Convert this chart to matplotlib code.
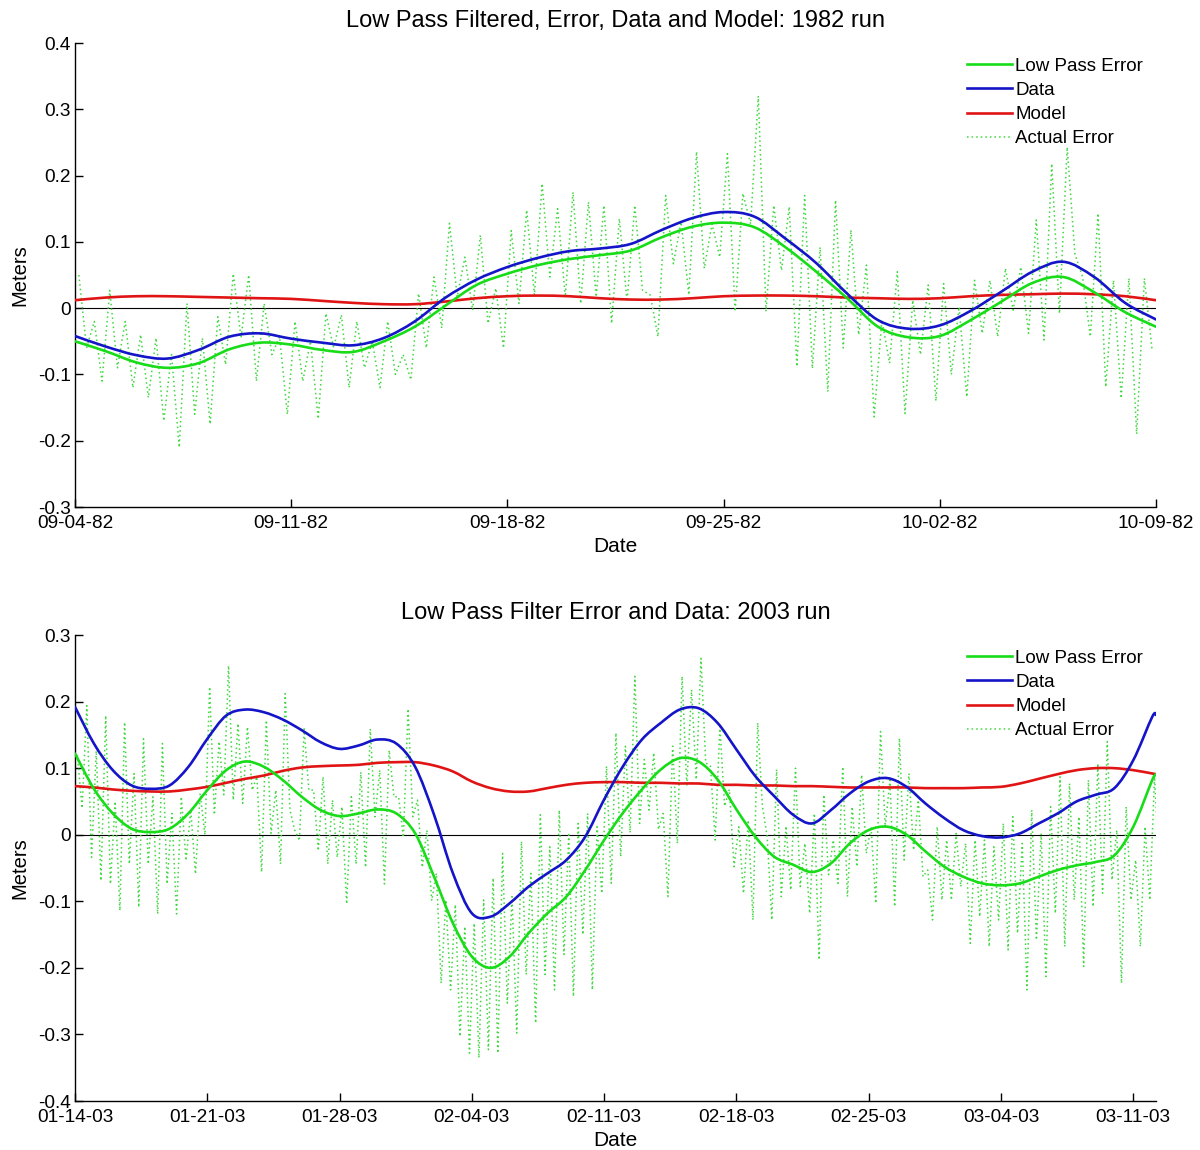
import numpy as np
import matplotlib
matplotlib.use("Agg")
import matplotlib.pyplot as plt
import matplotlib.dates as mdates
from matplotlib.ticker import FuncFormatter, MultipleLocator
from matplotlib.path import Path
from matplotlib.patches import PathPatch
from matplotlib.lines import Line2D
from datetime import datetime, timedelta

plt.rcParams["font.family"] = ["Liberation Sans", "DejaVu Sans"]

# ---------------- 1982 run (daily values, day 0 = 1982-09-04) ----------------
start_1982 = datetime(1982, 9, 4)
lowpass_1982 = [-0.050, -0.065, -0.082, -0.090, -0.083, -0.062, -0.052, -0.055, -0.063, -0.066,
                -0.050, -0.028, 0.004, 0.035, 0.052, 0.065, 0.074, 0.080, 0.087, 0.107,
                0.123, 0.129, 0.122, 0.092, 0.055, 0.015, -0.028, -0.044, -0.042, -0.018,
                0.010, 0.038, 0.047, 0.024, -0.006, -0.028]
data_1982 = [-0.042, -0.058, -0.071, -0.076, -0.063, -0.043, -0.038, -0.046, -0.052, -0.056,
             -0.045, -0.020, 0.016, 0.043, 0.062, 0.076, 0.086, 0.090, 0.097, 0.118,
             0.136, 0.145, 0.138, 0.105, 0.068, 0.022, -0.018, -0.031, -0.026, -0.004,
             0.025, 0.055, 0.070, 0.047, 0.008, -0.017]
model_1982 = [0.012, 0.016, 0.018, 0.018, 0.017, 0.016, 0.015, 0.014, 0.011, 0.008,
              0.006, 0.006, 0.010, 0.015, 0.018, 0.019, 0.018, 0.015, 0.013, 0.013,
              0.015, 0.018, 0.019, 0.019, 0.018, 0.016, 0.015, 0.014, 0.015, 0.018,
              0.020, 0.021, 0.022, 0.021, 0.018, 0.012]
# half-day tidal cycles of the raw error: high then low
err_high_1982 = [0.050, -0.020, 0.027, -0.020, -0.040, -0.045, -0.070, 0.007, -0.045, -0.013,
                 0.052, 0.050, 0.007, -0.043, -0.020, -0.050, -0.008, -0.010, -0.020, -0.050,
                 -0.020, -0.070, 0.022, 0.047, 0.128, 0.077, 0.110, 0.030, 0.117, 0.148,
                 0.188, 0.150, 0.175, 0.160, 0.155, 0.135, 0.155, 0.020, 0.170, 0.130,
                 0.236, 0.127, 0.233, 0.173, 0.320, 0.155, 0.153, 0.170, 0.092, 0.163,
                 0.118, 0.065, -0.018, 0.055, 0.012, 0.035, 0.037, 0.002, 0.042, 0.042,
                 0.060, 0.062, 0.133, 0.218, 0.243, 0.047, 0.143, 0.042, 0.045, 0.045]
err_low_1982 = [-0.060, -0.110, -0.090, -0.120, -0.135, -0.170, -0.210, -0.160, -0.175, -0.085,
                -0.045, -0.110, -0.070, -0.160, -0.110, -0.167, -0.060, -0.120, -0.090, -0.120,
                -0.100, -0.108, -0.060, -0.030, 0.017, -0.003, -0.023, -0.060, 0.007, 0.020,
                0.047, 0.017, 0.007, 0.017, -0.023, 0.010, 0.027, -0.043, 0.067, 0.020,
                0.060, 0.077, -0.005, 0.127, -0.005, 0.057, -0.088, -0.091, -0.126, -0.060,
                -0.040, -0.164, -0.083, -0.159, -0.070, -0.140, -0.100, -0.134, -0.038, -0.043,
                -0.003, -0.038, -0.048, -0.008, 0.082, -0.043, -0.119, -0.136, -0.190, -0.063]

# ---------------- 2003 run (daily values, day 0 = 2003-01-14) ----------------
start_2003 = datetime(2003, 1, 14)
lowpass_2003 = [0.122, 0.069, 0.032, 0.009, 0.004, 0.009, 0.032, 0.067, 0.097, 0.110,
                0.102, 0.082, 0.057, 0.037, 0.028, 0.032, 0.038, 0.032, 0.002, -0.063,
                -0.133, -0.183, -0.200, -0.183, -0.148, -0.118, -0.093, -0.053, -0.008, 0.033,
                0.068, 0.098, 0.115, 0.110, 0.083, 0.038, -0.003, -0.033, -0.045, -0.056,
                -0.043, -0.013, 0.007, 0.012, 0.000, -0.025, -0.048, -0.063, -0.073, -0.076,
                -0.073, -0.063, -0.053, -0.046, -0.041, -0.031, 0.012, 0.082, 0.090]
data_2003 = [0.192, 0.137, 0.097, 0.074, 0.069, 0.074, 0.102, 0.144, 0.179, 0.188,
             0.184, 0.173, 0.157, 0.139, 0.129, 0.134, 0.143, 0.137, 0.102, 0.030,
             -0.058, -0.118, -0.123, -0.103, -0.078, -0.058, -0.038, -0.003, 0.053, 0.103,
             0.143, 0.168, 0.188, 0.190, 0.168, 0.128, 0.088, 0.058, 0.030, 0.017,
             0.037, 0.062, 0.080, 0.085, 0.072, 0.047, 0.025, 0.007, -0.002, -0.004,
             0.002, 0.017, 0.032, 0.050, 0.060, 0.070, 0.112, 0.177, 0.180]
model_2003 = [0.073, 0.071, 0.068, 0.066, 0.065, 0.065, 0.068, 0.072, 0.078, 0.084,
              0.089, 0.096, 0.101, 0.103, 0.104, 0.105, 0.108, 0.109, 0.109, 0.104,
              0.095, 0.080, 0.070, 0.065, 0.065, 0.070, 0.075, 0.078, 0.079, 0.079,
              0.078, 0.078, 0.077, 0.077, 0.075, 0.075, 0.074, 0.074, 0.073, 0.073,
              0.072, 0.071, 0.071, 0.071, 0.071, 0.070, 0.070, 0.070, 0.071, 0.072,
              0.077, 0.084, 0.091, 0.097, 0.100, 0.100, 0.097, 0.092, 0.091]
err_high_2003 = [0.120, 0.194, 0.126, 0.179, 0.050, 0.169, 0.092, 0.144, 0.057, 0.137,
                 0.032, 0.057, 0.037, 0.062, 0.222, 0.140, 0.254, 0.167, 0.162, 0.087,
                 0.172, 0.067, 0.212, 0.007, 0.159, 0.067, 0.087, 0.052, 0.042, 0.057,
                 0.094, 0.159, 0.097, 0.127, 0.057, 0.189, 0.052, 0.007, -0.058, -0.098,
                 -0.105, -0.138, -0.133, -0.098, -0.065, -0.028, -0.093, -0.010, -0.058, 0.030,
                 -0.018, 0.037, 0.000, 0.017, 0.032, 0.012, 0.103, 0.153, 0.133, 0.238,
                 0.113, 0.123, 0.032, 0.133, 0.238, 0.218, 0.265, 0.103, 0.163, 0.068,
                 0.012, 0.022, 0.168, -0.003, 0.098, 0.013, 0.100, -0.013, 0.032, 0.060,
                 -0.008, 0.102, 0.042, 0.090, 0.012, 0.155, 0.082, 0.145, 0.092, 0.052,
                 -0.053, 0.012, -0.008, 0.002, -0.013, -0.008, -0.008, -0.018, 0.017, 0.027,
                 -0.013, 0.037, 0.002, 0.042, 0.087, 0.077, 0.027, 0.082, 0.107, 0.140,
                 0.007, 0.042, -0.038, 0.012, 0.087]
err_low_2003 = [0.040, -0.034, -0.069, -0.074, -0.114, -0.044, -0.109, -0.044, -0.119, -0.074,
                -0.119, -0.039, -0.059, 0.000, 0.030, 0.060, 0.052, 0.047, 0.067, -0.056,
                0.002, -0.044, 0.037, -0.009, 0.067, -0.024, -0.044, -0.034, -0.104, -0.044,
                -0.049, 0.027, -0.074, 0.057, -0.004, 0.027, -0.049, -0.099, -0.223, -0.233,
                -0.303, -0.328, -0.335, -0.323, -0.328, -0.253, -0.298, -0.210, -0.283, -0.210,
                -0.233, -0.180, -0.243, -0.150, -0.233, -0.088, -0.073, -0.033, 0.003, 0.017,
                0.037, 0.008, -0.093, -0.013, 0.073, 0.083, 0.108, -0.008, 0.043, -0.048,
                -0.088, -0.128, 0.043, -0.128, -0.093, -0.083, -0.078, -0.118, -0.188, -0.060,
                -0.073, -0.093, -0.048, -0.028, -0.103, 0.012, -0.108, -0.038, -0.023, -0.063,
                -0.128, -0.098, -0.098, -0.078, -0.163, -0.123, -0.168, -0.128, -0.173, -0.148,
                -0.233, -0.158, -0.213, -0.118, -0.168, -0.098, -0.198, -0.108, -0.088, -0.068,
                -0.223, -0.098, -0.168, -0.098, -0.048]

C_LOWPASS = "#18dc18"
C_ERROR = "#3ed83e"
C_DATA = "#1414c8"
C_MODEL = "#e01414"
SOLID_LW = 1.9


def day_dates(start, days):
    return [start + timedelta(days=float(d)) for d in days]


def error_series(start, highs, lows):
    t, v = [], []
    for k, (h, l) in enumerate(zip(highs, lows)):
        t += [k * 0.5 + 0.125, k * 0.5 + 0.375]
        v += [h, l]
    return day_dates(start, t), v


def smooth_line(ax, dates, values, color, zorder):
    """Draw a curve through the daily values using cubic Bezier segments."""
    x = mdates.date2num(dates)
    y = np.asarray(values, dtype=float)
    px = np.concatenate([[x[0]], x, [x[-1]]])
    py = np.concatenate([[y[0]], y, [y[-1]]])
    verts = [(x[0], y[0])]
    codes = [Path.MOVETO]
    for i in range(1, len(px) - 2):
        c1 = (px[i] + (px[i + 1] - px[i - 1]) / 6, py[i] + (py[i + 1] - py[i - 1]) / 6)
        c2 = (px[i + 1] - (px[i + 2] - px[i]) / 6, py[i + 1] - (py[i + 2] - py[i]) / 6)
        verts += [c1, c2, (px[i + 1], py[i + 1])]
        codes += [Path.CURVE4] * 3
    patch = PathPatch(Path(verts, codes), fill=False, edgecolor=color,
                      lw=SOLID_LW, zorder=zorder, capstyle="round", joinstyle="round")
    ax.add_patch(patch)


def yfmt(v, _):
    v = round(v, 2)
    return "0" if abs(v) < 1e-9 else f"{v:g}"


def draw_panel(ax, start, days, lowpass, data, model, highs, lows,
               span, ylim, title):
    et, ev = error_series(start, highs, lows)
    t = day_dates(start, days)
    ax.axhline(0, color="black", lw=0.8, zorder=1)
    ax.plot(et, ev, color=C_ERROR, lw=1.1, ls=(0, (1, 2)), zorder=2)
    smooth_line(ax, t, model, C_MODEL, 3)
    smooth_line(ax, t, data, C_DATA, 4)
    smooth_line(ax, t, lowpass, C_LOWPASS, 5)

    ax.set_xlim(start, start + timedelta(days=span))
    ax.set_ylim(*ylim)
    ticks = [start + timedelta(days=7 * i) for i in range(int(span // 7) + 1)]
    ax.set_xticks(ticks)
    ax.xaxis.set_major_formatter(mdates.DateFormatter("%m-%d-%y"))
    ax.yaxis.set_major_locator(MultipleLocator(0.1))
    ax.yaxis.set_major_formatter(FuncFormatter(yfmt))

    for s in ("top", "right"):
        ax.spines[s].set_visible(False)
    for s in ("left", "bottom"):
        ax.spines[s].set_linewidth(1.0)
    ax.tick_params(direction="in", length=6, width=1.0, labelsize=13.7)
    ax.tick_params(axis="x", pad=6)
    ax.tick_params(axis="y", pad=3)

    ax.set_title(title, fontsize=17, pad=11.5)
    ax.set_xlabel("Date", fontsize=15, labelpad=3.5)
    ax.set_ylabel("Meters", fontsize=14.5, labelpad=6)

    handles = [Line2D([], [], color=C_LOWPASS, lw=SOLID_LW),
               Line2D([], [], color=C_DATA, lw=SOLID_LW),
               Line2D([], [], color=C_MODEL, lw=SOLID_LW),
               Line2D([], [], color=C_ERROR, lw=1.1, ls=(0, (1, 2)))]
    labels = ["Low Pass Error", "Data", "Model", "Actual Error"]
    ax.legend(handles, labels, loc="upper right", frameon=False,
              fontsize=13.5, handlelength=2.4, handletextpad=0.15,
              labelspacing=0.38, borderaxespad=0.0, bbox_to_anchor=(0.995, 0.985))


fig = plt.figure(figsize=(12, 11.5), dpi=100)
ax1 = fig.add_axes([0.0625, 0.5591, 0.9008, 0.4035])
ax2 = fig.add_axes([0.0625, 0.0426, 0.9008, 0.4052])

days_1982 = np.arange(len(lowpass_1982))
draw_panel(ax1, start_1982, days_1982, lowpass_1982, data_1982, model_1982,
           err_high_1982, err_low_1982, 35, (-0.3, 0.4),
           "Low Pass Filtered, Error, Data and Model: 1982 run")

days_2003 = np.append(np.arange(58), 57.2)
draw_panel(ax2, start_2003, days_2003, lowpass_2003, data_2003, model_2003,
           err_high_2003, err_low_2003, 57.2, (-0.4, 0.3),
           "Low Pass Filter Error and Data: 2003 run")

fig.savefig("out.png", dpi=100)
